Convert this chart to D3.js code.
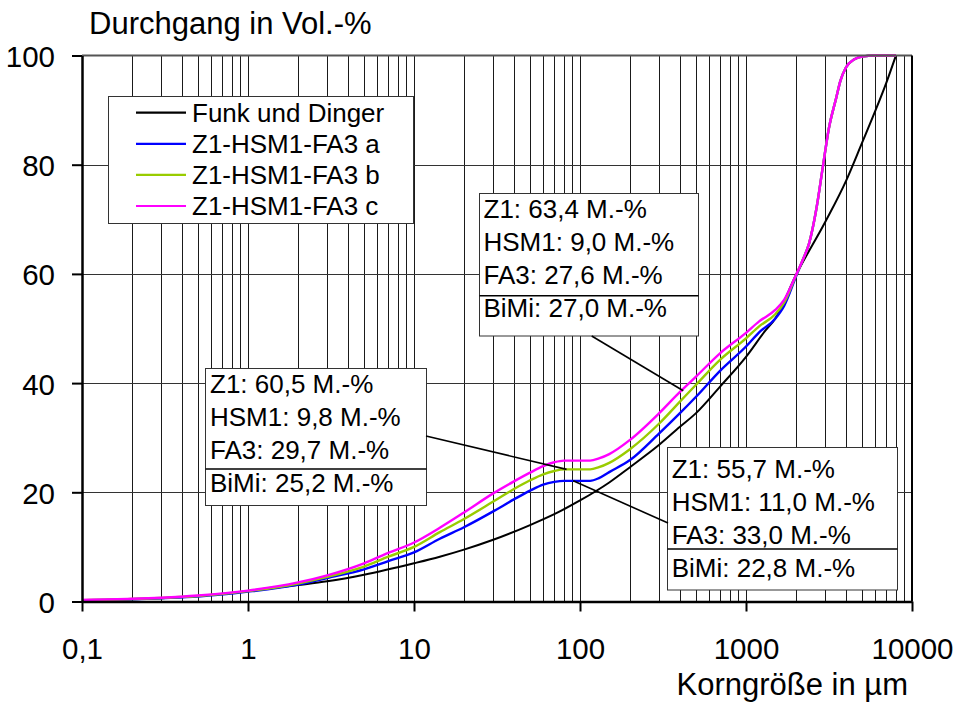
<!DOCTYPE html>
<html>
<head>
<meta charset="utf-8">
<script src="https://cdn.jsdelivr.net/npm/d3@7"></script>
<style>
  html, body { margin: 0; padding: 0; background: #fff; }
  svg { display: block; }
  text { font-family: "Liberation Sans", Arial, sans-serif; fill: #000; }
</style>
</head>
<body>
<svg id="chart" width="957" height="711"></svg>
<script>
// ---------- data ----------
const xTickValues = [0.1, 1, 10, 100, 1000, 10000];
const xTickLabels = ["0,1", "1", "10", "100", "1000", "10000"];
const yTickValues = [0, 20, 40, 60, 80, 100];
const yTickLabels = ["0", "20", "40", "60", "80", "100"];

const seriesNames = ["Funk und Dinger", "Z1-HSM1-FA3 a", "Z1-HSM1-FA3 b", "Z1-HSM1-FA3 c"];
const seriesColors = ["#000000", "#0000ff", "#99cc00", "#ff00ff"];

// Funk und Dinger
const sizeFunk = [0.1, 0.2, 0.5, 1, 2, 3, 5, 10, 14.3, 20, 30, 50, 70, 100, 150, 200, 300, 400, 500, 700, 1000, 1300, 1500, 2000, 3000, 4000, 5000, 6000, 7000, 8000];
const passFunk = [0.2, 0.4, 1.0, 1.9, 3.0, 3.7, 4.9, 7.0, 8.2, 9.5, 11.3, 14.0, 16.0, 18.5, 21.8, 24.6, 28.7, 32.0, 34.5, 39.4, 44.8, 49.5, 51.8, 59.8, 69.5, 77.0, 84.0, 89.8, 95.0, 100];

// Z1-HSM1-FA3 a / b / c (lower part, up to 2000 µm)
const sizeMix = [0.1, 0.2, 0.3, 0.5, 1, 2, 3, 5, 7, 10, 14.3, 20, 30, 40, 50, 60, 70, 80, 100, 115, 130, 150, 200, 300, 400, 500, 700, 1000, 1200, 1500, 1700, 2000];
const passA = [0.2, 0.4, 0.6, 0.9, 1.8, 3.1, 4.3, 5.9, 7.4, 9.0, 11.5, 13.6, 16.5, 18.7, 20.3, 21.4, 21.9, 22.1, 22.1, 22.1, 22.6, 23.7, 25.9, 30.8, 34.5, 37.5, 42.3, 46.7, 49.3, 51.8, 54.2, 59.5];
const passB = [0.25, 0.45, 0.65, 1.0, 1.9, 3.3, 4.5, 6.4, 8.2, 10.0, 12.7, 15.1, 18.3, 20.6, 22.2, 23.3, 23.9, 24.2, 24.2, 24.2, 24.6, 25.4, 27.9, 32.6, 36.6, 39.7, 44.3, 48.2, 50.4, 52.6, 54.8, 59.7];
const passC = [0.3, 0.5, 0.7, 1.1, 2.0, 3.5, 4.8, 7.0, 8.9, 10.8, 13.5, 16.3, 19.8, 22.0, 23.6, 24.8, 25.5, 25.8, 25.8, 25.8, 26.2, 27.0, 29.6, 34.5, 38.4, 41.2, 45.5, 49.2, 51.3, 53.4, 55.3, 59.8];
// common upper part of a / b / c
const sizeUpper = [2200, 2400, 2650, 2900, 3150, 3500, 3700, 4000, 4500, 5000, 6000, 8000];
const passUpper = [62.6, 65.6, 71.8, 79.5, 86.5, 92.3, 95.3, 97.8, 99.3, 99.8, 100, 100];

// annotation texts
const annoTexts = [
  ["Z1: 63,4 M.-%", "HSM1: 9,0 M.-%", "FA3: 27,6 M.-%", "BiMi: 27,0 M.-%"],
  ["Z1: 60,5 M.-%", "HSM1: 9,8 M.-%", "FA3: 29,7 M.-%", "BiMi: 25,2 M.-%"],
  ["Z1: 55,7 M.-%", "HSM1: 11,0 M.-%", "FA3: 33,0 M.-%", "BiMi: 22,8 M.-%"]
];
// points on the curves that the leader lines point to (µm, %)
const annoTargetX = [419, 83, 91];
const annoTargetY = [38.6, 24.2, 22.1];

// ---------- layout ----------
const svg = d3.select("#chart");
const L = 82, R = 912, T = 55.5, B = 601.5;
const x = d3.scaleLog().domain([0.1, 10000]).range([L, R]);
const y = d3.scaleLinear().domain([0, 100]).range([B, T]);

svg.append("rect").attr("width", 957).attr("height", 711).attr("fill", "#fff");

// grid
const minor = [];
for (let e = -1; e < 4; e++) for (let m = 1; m < 10; m++) {
  const v = m * Math.pow(10, e);
  if (v > 0.1 && v < 10000) minor.push(v);
}
const grid = svg.append("g").attr("shape-rendering", "crispEdges");
grid.selectAll("line.v").data(minor).join("line")
  .attr("x1", d => Math.round(x(d)) + 0.5).attr("x2", d => Math.round(x(d)) + 0.5)
  .attr("y1", T).attr("y2", B)
  .attr("stroke", "#1a1a1a").attr("stroke-width", 1);
grid.selectAll("line.h").data(yTickValues.slice(1, -1)).join("line")
  .attr("x1", L).attr("x2", R)
  .attr("y1", d => Math.round(y(d)) + 0.5).attr("y2", d => Math.round(y(d)) + 0.5)
  .attr("stroke", "#333").attr("stroke-width", 1);

// legend
const lg = svg.append("g");
lg.append("rect").attr("x", 108.5).attr("y", 96.5).attr("width", 305).attr("height", 127)
  .attr("fill", "#fff").attr("stroke", "#333").attr("stroke-width", 1);
seriesNames.forEach((n, i) => {
  const cy = 112.7 + i * 31.1;
  lg.append("line").attr("x1", 136).attr("x2", 186).attr("y1", cy).attr("y2", cy)
    .attr("stroke", seriesColors[i]).attr("stroke-width", 2.2);
  lg.append("text").attr("x", 192).attr("y", cy + 9).attr("font-size", 26).text(n);
});

// annotation boxes
const boxes = [
  { x: 479.5, y: 193.5, w: 219, h: 142.5, base: 218.3, sep: 295.7, tx: 483.5, lead: [591.7, 336] },
  { x: 205.5, y: 368.5, w: 221, h: 137, base: 393.3, sep: 469, tx: 210, lead: [426, 436] },
  { x: 667.5, y: 447.5, w: 230, h: 142.5, base: 477.7, sep: 549, tx: 671.7, lead: [668, 523] }
];
const ag = svg.append("g");
boxes.forEach((b, i) => {
  ag.append("rect").attr("x", b.x).attr("y", b.y).attr("width", b.w).attr("height", b.h)
    .attr("fill", "#fff").attr("stroke", "#333").attr("stroke-width", 1);
  ag.append("line").attr("x1", b.x).attr("x2", b.x + b.w).attr("y1", b.sep).attr("y2", b.sep)
    .attr("stroke", "#000").attr("stroke-width", 1.5);
  annoTexts[i].forEach((t, j) => {
    ag.append("text").attr("x", b.tx).attr("y", b.base + j * 33 + (j === 3 ? 0 : 0))
      .attr("font-size", 26).text(t);
  });
});

// curves
const line = d3.line().x(d => x(d[0])).y(d => y(d[1])).curve(d3.curveMonotoneX);
const zip = (xs, ys) => xs.map((v, i) => [v, ys[i]]);
const seriesData = [
  zip(sizeFunk, passFunk),
  zip(sizeMix.concat(sizeUpper), passA.concat(passUpper)),
  zip(sizeMix.concat(sizeUpper), passB.concat(passUpper)),
  zip(sizeMix.concat(sizeUpper), passC.concat(passUpper))
];
const cg = svg.append("g");
seriesData.forEach((d, i) => {
  cg.append("path").attr("d", line(d)).attr("fill", "none")
    .attr("stroke", seriesColors[i]).attr("stroke-width", i === 0 ? 2 : 2.4)
    .attr("stroke-linejoin", "round");
});

// leader lines
boxes.forEach((b, i) => {
  svg.append("line").attr("x1", b.lead[0]).attr("y1", b.lead[1])
    .attr("x2", x(annoTargetX[i])).attr("y2", y(annoTargetY[i]))
    .attr("stroke", "#000").attr("stroke-width", 1.6);
});

// frame
svg.append("line").attr("x1", L).attr("x2", R).attr("y1", T).attr("y2", T).attr("stroke", "#555").attr("stroke-width", 2);
svg.append("line").attr("x1", R).attr("x2", R).attr("y1", T).attr("y2", B).attr("stroke", "#000").attr("stroke-width", 2);

// axes
const xAxis = d3.axisBottom(x).tickValues(xTickValues).tickSize(10).tickSizeOuter(0)
  .tickFormat((d, i) => xTickLabels[i]);
const gx = svg.append("g").attr("transform", `translate(0,${B})`).call(xAxis);
gx.select(".domain").attr("stroke", "#000").attr("stroke-width", 2.5);
gx.selectAll(".tick line").attr("stroke", "#000").attr("stroke-width", 2);
gx.selectAll(".tick text").attr("font-size", 29.5).attr("font-family", "Liberation Sans, Arial, sans-serif")
  .attr("fill", "#000").attr("dy", null).attr("y", 57.5);

const yAxis = d3.axisLeft(y).tickValues(yTickValues).tickSize(10).tickSizeOuter(0)
  .tickFormat((d, i) => yTickLabels[i]);
const gy = svg.append("g").attr("transform", `translate(${L},0)`).call(yAxis);
gy.select(".domain").attr("stroke", "#000").attr("stroke-width", 2.5);
gy.selectAll(".tick line").attr("stroke", "#000").attr("stroke-width", 2);
gy.selectAll(".tick text").attr("font-size", 29.5).attr("font-family", "Liberation Sans, Arial, sans-serif")
  .attr("fill", "#000").attr("dy", null).attr("x", -27).attr("y", 11);

// axis titles
svg.append("text").attr("x", 89).attr("y", 34).attr("font-size", 31).text("Durchgang in Vol.-%");
svg.append("text").attr("x", 908).attr("y", 695).attr("font-size", 31).attr("text-anchor", "end").text("Korngröße in µm");
</script>
</body>
</html>
